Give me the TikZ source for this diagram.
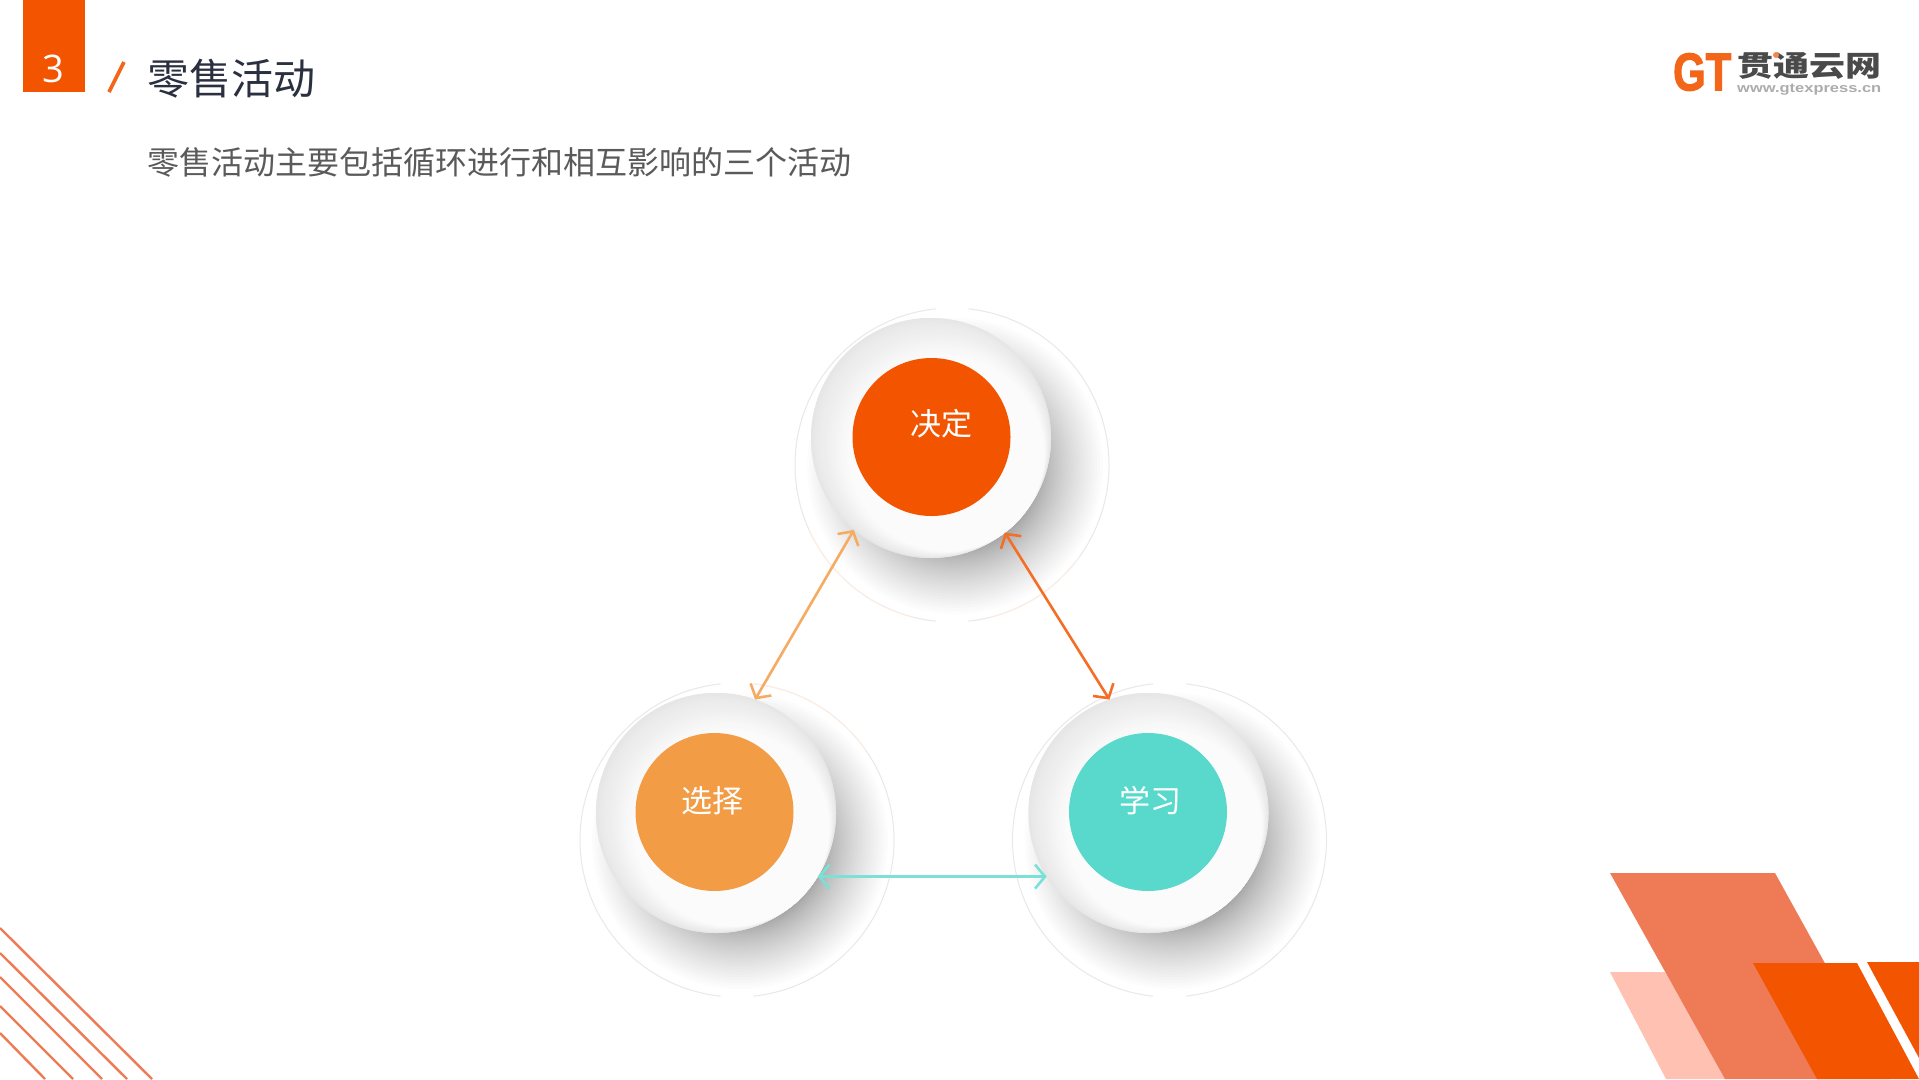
\documentclass[tikz,border=0pt]{standalone}
\usepackage{fontspec}
\usepackage{graphicx}
\usetikzlibrary{arrows.meta}
\setmainfont{Noto Sans CJK SC}
\newfontfamily\numfont{Open Sans}
\newfontfamily\logofont{Liberation Sans}
\newfontfamily\logoheavy[BoldFeatures={FakeBold=2.5}]{Liberation Sans}
\definecolor{brand}{HTML}{F25400}
\definecolor{medbrand}{HTML}{EF7A56}
\definecolor{lightbrand}{HTML}{FFC1B1}
\definecolor{ambercol}{HTML}{F39C46}
\definecolor{tealcol}{HTML}{58D9CC}
\definecolor{titlecol}{HTML}{2B3040}
\definecolor{subcol}{HTML}{5A5A5A}
\definecolor{platedark}{HTML}{E6E6E6}
\definecolor{platelight}{HTML}{FBFBFB}
\definecolor{ringcol}{HTML}{E8E8E8}
\definecolor{ringtint}{HTML}{FDEEE4}
\definecolor{logogray}{HTML}{4A4A4A}
\tikzset{
  ringnode/.style={circle,inner sep=0pt,outer sep=0pt,minimum size=314pt,fill=white},
  platenode/.style={circle,inner sep=0pt,outer sep=0pt,minimum size=240pt},
  corenode/.style={circle,inner sep=0pt,outer sep=0pt,minimum size=158pt},
  corelabel/.style={inner sep=0pt,text=white,font=\fontsize{31}{31}\selectfont},
  ringline/.style={draw=ringcol,line width=1pt},
  tintline/.style={draw=ringtint,line width=1pt},
  biarrow/.style={{Straight Barb[length=10pt,width=24pt]}-{Straight Barb[length=10pt,width=24pt]},line width=2.6pt},
  decoline/.style={draw=medbrand,line width=2.4pt}
}
% #1 name, #2 plate centre x, #3 plate centre y, #4 core centre x, #5 core colour
\newcommand{\dishgroup}[5]{%
  \pgfmathsetmacro{\ringx}{#2+21}
  \pgfmathsetmacro{\ringy}{#3+27}
  \node[ringnode] (#1ring) at (\ringx,\ringy) {};
  \begin{scope}
    \clip (\ringx,\ringy) circle[radius=156pt];
    \foreach \k in {0,...,34}{
      \pgfmathsetmacro{\shr}{80+68*(\k/34)^1.5}
      \fill[black,fill opacity=0.0105] (#2+24,#3+28) circle[radius=\shr pt];
    }
  \end{scope}
  \draw[ringline] (#1ring.96) arc[start angle=96,delta angle=168,radius=157pt];
  \draw[ringline] (#1ring.-84) arc[start angle=-84,delta angle=168,radius=157pt];
  \node[platenode,fill=platedark] (#1plate) at (#2,#3) {};
  \foreach \k in {0,...,22}{
    \pgfmathsetmacro{\dd}{\k*0.7071}
    \pgfmathsetmacro{\pr}{120-\k}
    \pgfmathsetmacro{\pc}{100*(\k/22)^0.9}
    \fill[platelight!\pc!platedark] (#2+\dd,#3+\dd) circle[radius=\pr pt];
  }
  \node[corenode,fill=#5] (#1core) at (#4,#3-1) {};
}
\begin{document}
\begin{tikzpicture}[x=1pt,y=-1pt]
\path[use as bounding box,fill=white] (0,0) rectangle (1919,1079);

% header
\fill[brand] (23,0) rectangle (84.5,92);
\node[inner sep=0pt,text=white,font=\numfont\fontsize{38}{38}\selectfont] (num) at (53.5,69) {3};
\coordinate (slashtop) at (124,62);
\coordinate (slashbot) at (109,92);
\draw[brand!90!white,line width=3.6pt] (slashtop) -- (slashbot);
\node[inner sep=0pt,anchor=west,text=titlecol,font=\fontsize{42}{42}\selectfont] (title) at (147,79) {零售活动};
\node[inner sep=0pt,anchor=west,text=subcol,font=\fontsize{32}{32}\selectfont] (subtitle) at (147,162) {零售活动主要包括循环进行和相互影响的三个活动};

% logo
\node[inner sep=0pt,anchor=south west,text=brand!90!white] (logoGT) at (1673,91) {\resizebox{58pt}{37pt}{\logoheavy\bfseries GT}};
\node[inner sep=0pt,anchor=south west,text=logogray] (logoCN) at (1737,77) {\resizebox{144pt}{24pt}{\raisebox{0pt}[\height][0pt]{\bfseries 贯通云网}}};
\node[inner sep=0pt,anchor=north west,text=gray!65] (logoURL) at (1737,84) {\resizebox{144pt}{8.5pt}{\logofont\bfseries www.gtexpress.cn}};
\fill[brand!70!white] (1776,55) circle[radius=3pt];

% bottom-right decoration
\fill[lightbrand] (1610,972) -- (1665,972) -- (1726,1079) -- (1666,1079) -- cycle;
\fill[medbrand] (1610,873) -- (1775,873) -- (1889,1079) -- (1725,1079) -- cycle;
\fill[brand] (1753,963) -- (1857,963) -- (1919,1079) -- (1817,1079) -- cycle;
\fill[brand] (1867,962) -- (1919,962) -- (1919,1058) -- cycle;

% bottom-left lines
\draw[decoline] (0,928) -- (152,1079);
\draw[decoline] (0,953) -- (127,1079);
\draw[decoline] (0,977) -- (102,1079);
\draw[decoline] (0,1006) -- (73,1079);
\draw[decoline] (0,1033) -- (45,1079);

% dishes
\dishgroup{dec}{931}{438}{931.5}{brand}
\dishgroup{sel}{716}{813}{714.5}{ambercol}
\dishgroup{lea}{1148.5}{813}{1148}{tealcol}

\draw[tintline] (decring.205) arc[start angle=205,delta angle=50,radius=157pt];
\draw[tintline] (decring.-75) arc[start angle=-75,delta angle=40,radius=157pt];
\draw[tintline] (selring.35) arc[start angle=35,delta angle=49,radius=157pt];

\node[corelabel] (declabel) at (941,424) {决定};
\node[corelabel] (sellabel) at (712.5,801) {选择};
\node[corelabel] (lealabel) at (1150,801) {学习};

% connectors
\draw[biarrow,draw=ambercol!85!white] (decplate.230) -- (selplate.71.5);
\draw[biarrow,draw=brand!85!white] (decplate.308) -- (leaplate.109);
\draw[biarrow,draw=tealcol!80!white] (selplate.-32) -- (leaplate.212);
\end{tikzpicture}
\end{document}
